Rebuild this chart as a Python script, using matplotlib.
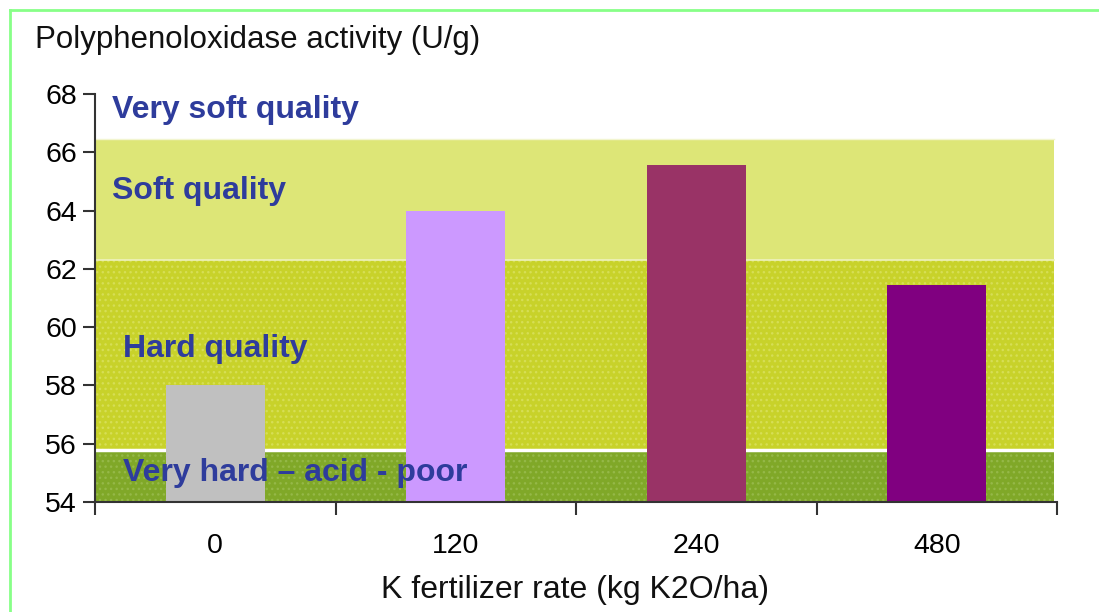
import numpy as np
import matplotlib.pyplot as plt

plt.rcParams['font.family'] = ['Liberation Sans', 'DejaVu Sans']
plt.rcParams['hatch.linewidth'] = 1.0

rates = ['0', '120', '240', '480']
activity = [58.0, 64.0, 65.55, 61.45]
bar_colors = ['#c0c0c0', '#cc99ff', '#993366', '#800080']

# quality bands (lower, upper, label)
band_lo = [54.0, 55.8, 62.3]
band_hi = [55.8, 62.3, 66.45]
band_colors = ['#80a828', '#c8d22a', '#dde677']
band_hatch_colors = ['#95b848', '#d6de55', '#dde677']
band_labels = ['Very hard \u2013 acid - poor', 'Hard quality', 'Soft quality', 'Very soft quality']
label_x = [-0.384, -0.384, -0.43, -0.43]
label_y = [55.0, 59.25, 64.67, 67.45]

fig = plt.figure(figsize=(10.99, 6.12), dpi=100)
ax = fig.add_axes([95/1099, 110/612, 962/1099, 408/612])

x = np.arange(len(rates))
for lo, hi, c, hc in zip(band_lo, band_hi, band_colors, band_hatch_colors):
    ax.axhspan(lo, hi, xmin=0, xmax=0.997, facecolor=c, edgecolor=hc,
               hatch='...' if c != band_colors[-1] else None, linewidth=0, zorder=0)
ax.axhline(band_hi[0], xmin=0, xmax=0.997, color='white', lw=2.5, zorder=1)
ax.axhline(band_hi[1], xmin=0, xmax=0.997, color='#eef2c0', lw=1.2, zorder=1)
ax.axhline(band_hi[2], xmin=0, xmax=0.997, color='#f2f5d0', lw=1.0, zorder=1)

ax.bar(x, np.array(activity) - 54, bottom=54, width=0.41, color=bar_colors, zorder=2)

for t, tx, ty in zip(band_labels, label_x, label_y):
    ax.text(tx, ty, t, color='#2e3c9c', fontsize=23, fontweight='bold',
            va='center', ha='left', zorder=3)

ax.set_xlim(-0.5, 3.5)
ax.set_ylim(54, 68)
ax.set_yticks(np.arange(54, 69, 2))
ax.set_xticks(np.arange(-0.5, 3.6, 1))
ax.set_xticklabels([])
ax.set_xticks(x, minor=True)
ax.set_xticklabels(rates, minor=True)
ax.tick_params(axis='x', which='minor', length=0, pad=22, labelsize=20.5)
ax.tick_params(axis='x', which='major', length=9, width=1.5, color='#333333')
ax.tick_params(axis='y', length=9, width=1.5, color='#333333', labelsize=20.5, pad=4)
for s in ['top', 'right']:
    ax.spines[s].set_visible(False)
for s in ['left', 'bottom']:
    ax.spines[s].set_color('#333333')
    ax.spines[s].set_linewidth(1.5)

fig.text(35/1099, 1 - 40/612, 'Polyphenoloxidase activity (U/g)', fontsize=22.5,
         va='center', ha='left', color='#111111')
fig.text(575/1099, 1 - 590/612, 'K fertilizer rate (kg K2O/ha)', fontsize=23,
         va='center', ha='center', color='#111111')

# light green frame
fig.add_artist(plt.Line2D([10/1099, 1], [1 - 10/612, 1 - 10/612], color='#88ff88', lw=2))
fig.add_artist(plt.Line2D([10/1099, 10/1099], [0, 1 - 10/612], color='#88ff88', lw=2))

fig.savefig('out.png', dpi=100)
